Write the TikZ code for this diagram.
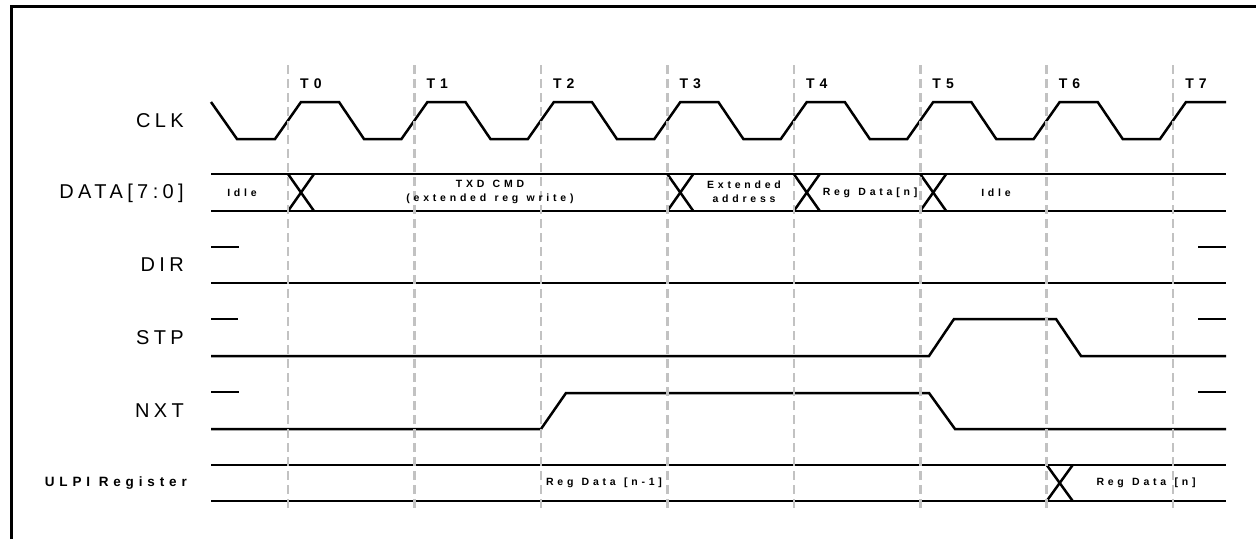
\documentclass[tikz,border=0pt]{standalone}
\usepackage{fontspec}
\setmainfont{Liberation Sans}
\newfontfamily\sigfont[LetterSpace=22]{Liberation Sans}
\newfontfamily\busfont[LetterSpace=36]{Liberation Sans Bold}
\begin{document}
\begin{tikzpicture}[x=1pt,y=-1pt,
  sig/.style={line width=2.5pt, line join=miter, line cap=butt},
  frame/.style={line width=3pt},
  gridline/.style={draw=black!24, line width=2.6pt, dash pattern=on 9pt off 5pt},
  siglabel/.style={anchor=east, inner sep=0pt, font=\sigfont\fontsize{20}{24}\selectfont},
  tlabel/.style={anchor=west, inner sep=0pt, font=\busfont\fontsize{14}{16}\selectfont},
  bustext/.style={inner sep=0pt, align=center, font=\busfont\fontsize{10.5}{14}\selectfont},
  reglabel/.style={anchor=east, inner sep=0pt, font=\busfont\fontsize{13.5}{15}\selectfont}]
\useasboundingbox (0,0) rectangle (1256,539);
\fill[white] (0,0) rectangle (1256,539);
% frame
\draw[frame] (11,539) -- (11,6.5) -- (1256,6.5);
% labels
\node[siglabel] (lclk) at (184,120.5) {CLK};
\node[siglabel] (ldata) at (184,193) {DATA[7:0]};
\node[siglabel] (ldir) at (184,265) {DIR};
\node[siglabel] (lstp) at (184,337.5) {STP};
\node[siglabel] (lnxt) at (184,410.5) {NXT};
\node[reglabel] (lreg) at (187,483) {ULPI Register};
% CLK
\draw[sig] (211,102) -- (237,139)
  foreach \k in {0,...,6} { -- ({288+126.45*\k-13},139) -- ({288+126.45*\k+13},102)
     -- ({288+126.45*\k+51},102) -- ({288+126.45*\k+76},139) }
  -- (1160,139) -- (1186,102) -- (1226,102);
% DATA bus
\draw[sig] (211,174) -- (1226,174);
\draw[sig] (211,211) -- (1226,211);
\foreach \t in {288,667.3,793.8,920.2} {
  \draw[sig] (\t,174) -- (\t+26,211);
  \draw[sig] (\t,211) -- (\t+26,174);
}
% DIR
\draw[sig] (211,247) -- (239,247);
\draw[sig] (211,283) -- (1226,283);
\draw[sig] (1198,247) -- (1226,247);
% STP
\draw[sig] (211,319) -- (238,319);
\draw[sig] (211,356) -- (929,356) -- (954,319) -- (1056,319) -- (1081,356) -- (1226,356);
\draw[sig] (1198,319) -- (1226,319);
% NXT
\draw[sig] (211,392) -- (239,392);
\draw[sig] (211,429) -- (541,429) -- (566,393) -- (929,393) -- (955,429) -- (1226,429);
\draw[sig] (1198,392) -- (1226,392);
% ULPI register bus
\draw[sig] (211,465) -- (1226,465);
\draw[sig] (211,501) -- (1226,501);
\draw[sig] (1046.7,465) -- (1072.7,501);
\draw[sig] (1046.7,501) -- (1072.7,465);
% grid lines and T labels
\foreach \k in {0,...,7} {
  \draw[gridline] ({288+126.45*\k},65) -- ({288+126.45*\k},512);
  \node[tlabel] (t\k) at ({300+126.45*\k},84) {T\k};
}
% bus texts
\node[bustext] (didle) at (242,193) {Idle};
\node[bustext] (dtxd) at (490,192) {TXD\hspace{0.15em} CMD\\(extended\hspace{0.15em} reg\hspace{0.15em} write)};
\node[bustext] (dext) at (744,192) {Extended\\address};
\node[bustext] (dreg) at (870,193) {Reg\hspace{0.15em} Data[n]};
\node[bustext] (didle2) at (996,193) {Idle};
\node[bustext] (rprev) at (604,483) {Reg\hspace{0.15em} Data\hspace{0.15em} [n-1]};
\node[bustext] (rnext) at (1146,483) {Reg\hspace{0.15em} Data\hspace{0.15em} [n]};
\end{tikzpicture}
\end{document}
